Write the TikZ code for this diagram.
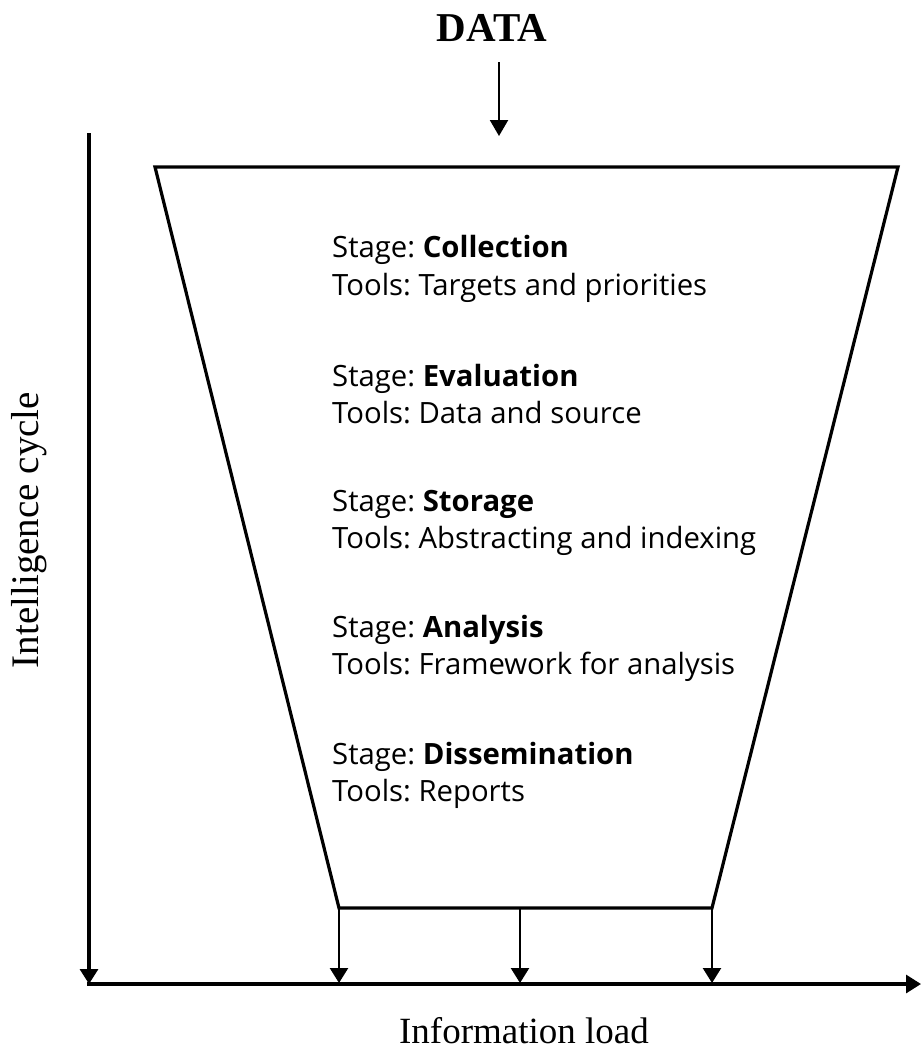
\documentclass[tikz,border=0pt]{standalone}
\usepackage{fontspec}
\setmainfont{Liberation Serif}
\newfontfamily\bodyfont{Open Sans}
\usetikzlibrary{arrows.meta}
\frenchspacing

\begin{document}
\begin{tikzpicture}[x=1pt,y=-1pt,
  tip/.style={-{Triangle[width=18pt,length=15pt]}},
  axis/.style={line width=3.2pt, tip},
  funnel/.style={line width=3.2pt, line join=miter},
  flow/.style={line width=2.4pt, tip},
  stage/.style={anchor=base west, inner sep=0pt, font=\bodyfont\fontsize{29.3}{33}\selectfont},
  label/.style={inner sep=0pt, font=\fontsize{37}{42}\selectfont},
]
\useasboundingbox (0,0) rectangle (922,1050);

% axes
\coordinate (ytop) at (89,133);
\coordinate (origin) at (89,984);
\coordinate (xend) at (921,984);
\draw[axis] (ytop) -- (origin);
\draw[axis] ([xshift=-1.6pt]origin) -- (xend);

% funnel
\coordinate (tl) at (155,167);
\coordinate (tr) at (898,167);
\coordinate (br) at (712,908);
\coordinate (bl) at (339,908);
\coordinate (bm) at (520,908);
\draw[funnel] (tl) -- (tr) -- (br) -- (bl) -- cycle;

% outputs onto the load axis
\coordinate (a1) at (339,983);
\coordinate (a2) at (520,983);
\coordinate (a3) at (712,983);
\draw[flow] (bl) -- (a1);
\draw[flow] (bm) -- (a2);
\draw[flow] (br) -- (a3);

% data input
\node[inner sep=0pt, anchor=base, font=\bfseries\fontsize{41}{46}\selectfont] (data) at (492,41) {DATA};
\coordinate (din) at (499,62);
\coordinate (dout) at (499,136);
\draw[line width=2.2pt, -{Triangle[width=18pt,length=16pt]}] (din) -- (dout);

% axis labels
\node[label, anchor=base] (xlabel) at (524,1043) {Information load};
\node[label, anchor=base, rotate=90, font=\fontsize{39}{44}\selectfont] (ylabel) at (38,530) {Intelligence cycle};

% stages
\node[stage] (s1) at (332,257) {Stage: \textbf{Collection}};
\node[stage] (t1) at (332,295) {Tools: Targets and priorities};
\node[stage] (s2) at (332,386) {Stage: \textbf{Evaluation}};
\node[stage] (t2) at (332,423) {Tools: Data and source};
\node[stage] (s3) at (332,511) {Stage: \textbf{Storage}};
\node[stage] (t3) at (332,548) {Tools: Abstracting and indexing};
\node[stage] (s4) at (332,637) {Stage: \textbf{Analysis}};
\node[stage] (t4) at (332,674) {Tools: Framework for analysis};
\node[stage] (s5) at (332,764) {Stage: \textbf{Dissemination}};
\node[stage] (t5) at (332,801) {Tools: Reports};
\end{tikzpicture}
\end{document}
